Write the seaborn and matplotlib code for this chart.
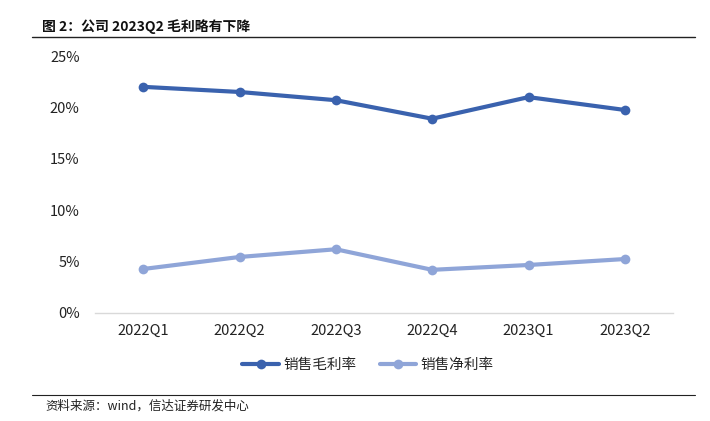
import matplotlib
matplotlib.use("Agg")
import matplotlib.pyplot as plt
import seaborn as sns
import pandas as pd
from matplotlib.ticker import PercentFormatter
from matplotlib.lines import Line2D

categories = ["2022Q1", "2022Q2", "2022Q3", "2022Q4", "2023Q1", "2023Q2"]
gross_margin = [22.0, 21.5, 20.7, 18.9, 21.0, 19.75]
net_margin = [4.28, 5.45, 6.2, 4.2, 4.67, 5.25]
series_names = ["销售毛利率", "销售净利率"]
title_text = "图 2：公司 2023Q2 毛利略有下降"
source_text = "资料来源：wind，信达证券研发中心"

sns.set_theme(style="white")
plt.rcParams['font.family'] = ['Noto Sans CJK SC', 'DejaVu Sans']

df = pd.DataFrame({
    "quarter": categories * 2,
    "value": gross_margin + net_margin,
    "series": [series_names[0]] * 6 + [series_names[1]] * 6,
})

colors = ["#3A62AE", "#8FA5D8"]

fig = plt.figure(figsize=(7.10, 4.21), dpi=100)
ax = fig.add_axes([95/710, 1 - 313/421, (673-95)/710, (313-56)/421])

sns.lineplot(data=df, x="quarter", y="value", hue="series", palette=colors,
             marker="o", markersize=7, markeredgewidth=0, linewidth=3,
             sort=False, ax=ax, legend=False)

ax.set_xlim(-0.5, 5.5)
ax.set_ylim(0, 25)
ax.set_yticks([0, 5, 10, 15, 20, 25])
ax.yaxis.set_major_formatter(PercentFormatter(decimals=0))
ax.set_xlabel("")
ax.set_ylabel("")
for s in ["top", "right", "left"]:
    ax.spines[s].set_visible(False)
ax.spines["bottom"].set_color("#D9D9D9")
ax.spines["bottom"].set_linewidth(1)
ax.tick_params(axis="both", length=0, labelsize=10.5, colors="#222222")
ax.tick_params(axis="x", pad=8)
ax.tick_params(axis="y", pad=11)

handles = [Line2D([0], [0], color=c, lw=3, marker="o", markersize=7, markeredgewidth=0)
           for c in colors]
fig.legend(handles, series_names, loc="center", bbox_to_anchor=(368/710, 1 - 365/421),
           ncol=2, frameon=False, fontsize=10.5, handlelength=2.5, columnspacing=1.6,
           handletextpad=0.3)

fig.text(42/710, 1 - 27/421, title_text, fontsize=10, fontweight="bold",
         ha="left", va="center", color="#111111")
fig.add_artist(Line2D([32/710, 695/710], [1 - 37/421, 1 - 37/421], color="#222222", lw=1))
fig.add_artist(Line2D([32/710, 695/710], [1 - 395/421, 1 - 395/421], color="#222222", lw=0.8))
fig.text(45/710, 1 - 406/421, source_text, fontsize=9, style="italic",
         ha="left", va="center", color="#222222")

fig.savefig("out.png", dpi=100)
